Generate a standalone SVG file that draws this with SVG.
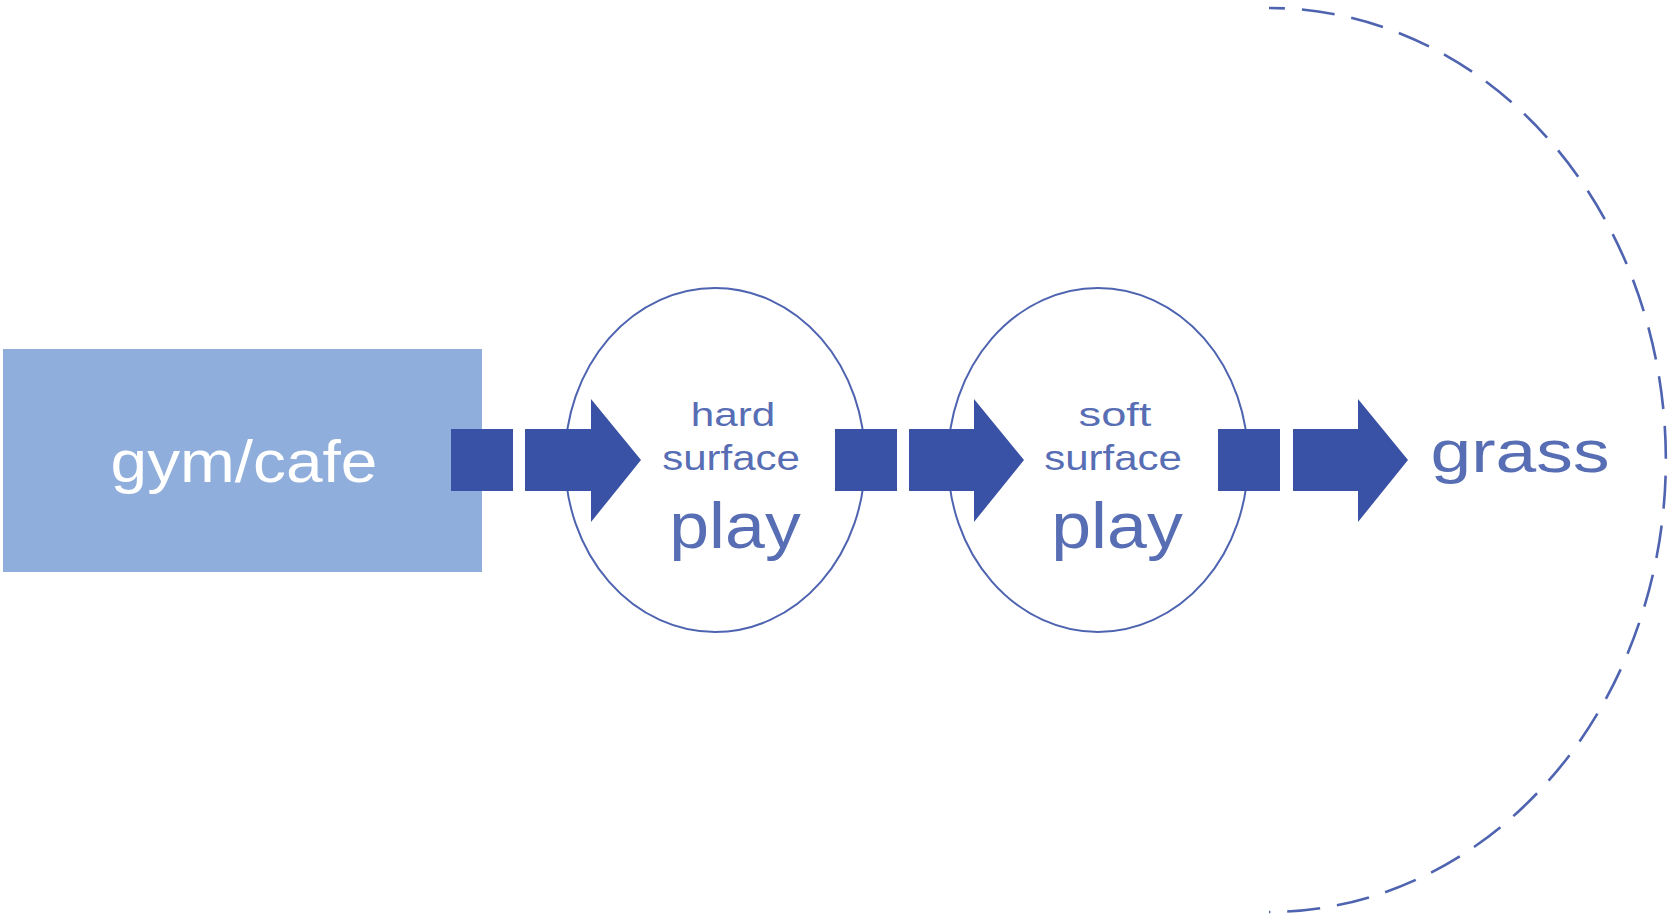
<svg xmlns="http://www.w3.org/2000/svg" width="1669" height="919" viewBox="0 0 1669 919">
<style>
.bg{fill:#ffffff}
.box{fill:#8faedb}
.ring{fill:none;stroke:#4f64b0;stroke-width:2}
.dash{fill:none;stroke:#4f64b0;stroke-width:2.6;stroke-dasharray:33 17;stroke-dashoffset:17}
.conn{fill:#3a52a5}
.t{font-family:"Liberation Sans",Arial,Helvetica,sans-serif;fill:#586eb4;text-anchor:middle}
.w{fill:#ffffff}
</style>
<rect class="bg" x="0" y="0" width="1669" height="919"/>
<g id="boundary">
<path class="dash" d="M1269,8 A397,452 0 0 1 1269,912"/>
</g>
<g id="gym-cafe">
<rect class="box" x="3" y="349" width="479" height="223"/>
<text class="t w" font-size="59" transform="translate(244,482) scale(1.115,1)">gym/cafe</text>
</g>
<g id="hard-surface-play">
<ellipse class="ring" cx="715" cy="460" rx="150" ry="172"/>
<text class="t" font-size="33" transform="translate(733,426) scale(1.28,1)">hard</text>
<text class="t" font-size="35" transform="translate(731,470) scale(1.2,1)">surface</text>
<text class="t" font-size="64" transform="translate(735,548) scale(1.12,1)">play</text>
</g>
<g id="soft-surface-play">
<ellipse class="ring" cx="1098" cy="460" rx="150" ry="172"/>
<text class="t" font-size="33" transform="translate(1115,426) scale(1.37,1)">soft</text>
<text class="t" font-size="35" transform="translate(1113,470) scale(1.2,1)">surface</text>
<text class="t" font-size="64" transform="translate(1117,548) scale(1.12,1)">play</text>
</g>
<g id="grass">
<text class="t" font-size="60" transform="translate(1520,472) scale(1.22,1)">grass</text>
</g>
<g id="connectors">
<rect class="conn" x="451" y="429" width="62" height="62"/>
<polygon class="conn" points="525,429 591,429 591,399 641,460 591,522 591,491 525,491"/>
<rect class="conn" x="835" y="429" width="62" height="62"/>
<polygon class="conn" points="909,429 974,429 974,399 1024,460 974,522 974,491 909,491"/>
<rect class="conn" x="1218" y="429" width="62" height="62"/>
<polygon class="conn" points="1293,429 1358,429 1358,399 1408,460 1358,522 1358,491 1293,491"/>
</g>
</svg>
